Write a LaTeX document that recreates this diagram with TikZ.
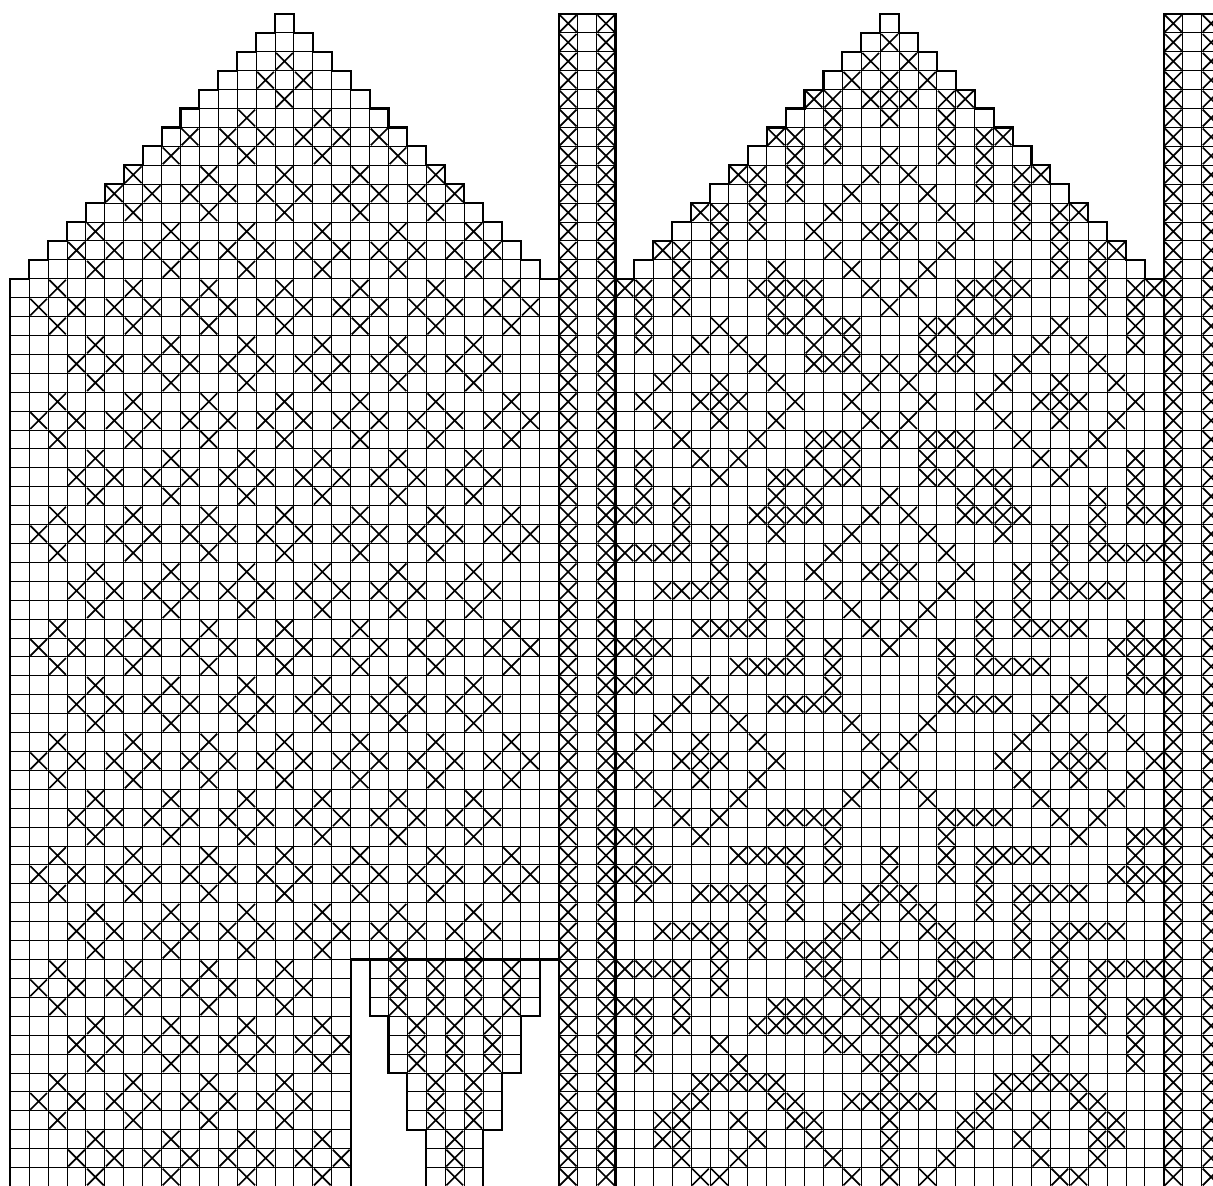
\documentclass[tikz,border=0pt]{standalone}
\usepackage{xcolor}

\newcommand{\xstitch}[2]{\draw[stitchline] (#1+.06,-#2-.06) -- (#1+.94,-#2-.94) (#1+.06,-#2-.94) -- (#1+.94,-#2-.06);}

\tikzset{
    gridline/.style={step=1, line width=.72pt, black},
    outline/.style={line width=1.6pt, black, line cap=rect},
    stitchline/.style={line width=1.25pt, black},
    mittentop/.pic={
        \foreach \r in {0,...,13} {
            \draw[gridline] (14-\r,-\r) grid (15+\r,-\r-1);
            \draw[outline] (14-\r,-\r-1) -- (14-\r,-\r) -- (15-\r,-\r);
            \draw[outline] (14+\r,-\r) -- (15+\r,-\r) -- (15+\r,-\r-1);
        }
        \draw[outline] (0,-14) -- (1,-14);
        \draw[outline] (28,-14) -- (29,-14);
    },
    ropestrip/.pic={
        \draw[gridline] (0,0) grid (3,-62);
        \draw[outline] (0,-62) -- (0,0) -- (3,0) -- (3,-62);
        \foreach \r in {0,...,61} {
            \xstitch{0}{\r}
            \xstitch{2}{\r}
        }
    }
}

\begin{document}
\begin{tikzpicture}[x=5mm, y=5mm]
    \useasboundingbox (-.545,.74) rectangle (63.6,-61.93);
    \clip (-.545,.74) rectangle (63.6,-61.93);

    \pic at (0,0) {mittentop};
    \pic at (32,0) {mittentop};
    \pic at (29,0) {ropestrip};
    \pic at (61,0) {ropestrip};

    % palm
    \draw[gridline] (0,-14) grid (29,-50);
    \draw[gridline] (0,-50) grid (18,-62);
    \draw[gridline] (19,-50) grid (28,-53);
    \draw[gridline] (20,-53) grid (27,-56);
    \draw[gridline] (21,-56) grid (26,-59);
    \draw[gridline] (22,-59) grid (25,-62);
    \draw[outline] (0,-14) -- (0,-62);
    \draw[outline] (18,-62) -- (18,-50) -- (29,-50);
    \draw[outline] (19,-50) -- (19,-53) -- (20,-53) -- (20,-56) -- (21,-56) -- (21,-59) -- (22,-59) -- (22,-62);
    \draw[outline] (28,-50) -- (28,-53) -- (27,-53) -- (27,-56) -- (26,-56) -- (26,-59) -- (25,-59) -- (25,-62);

    % back
    \draw[gridline] (32,-14) grid (61,-62);

    \foreach \r/\cols in {2/{14},3/{13,15},4/{14},5/{12,16},6/{9,11,13,15,17,19},7/{8,12,16,20},
        8/{6,10,14,18,22},9/{5,7,...,23},10/{6,10,14,18,22},11/{4,8,...,24},12/{3,5,...,25},13/{4,8,...,24}} {
        \foreach \c in \cols {\xstitch{\c}{\r}}
    }
    \foreach \r in {14,16,20,22,26,28,32,34,38,40,44,46}
        \foreach \c in {2,6,...,26} {\xstitch{\c}{\r}}
    \foreach \r in {15,21,27,33,39,45}
        \foreach \c in {1,3,...,27} {\xstitch{\c}{\r}}
    \foreach \r in {17,19,23,25,29,31,35,37,41,43,47,49}
        \foreach \c in {4,8,...,24} {\xstitch{\c}{\r}}
    \foreach \r in {18,24,30,36,42,48}
        \foreach \c in {3,5,...,25} {\xstitch{\c}{\r}}
    \foreach \r in {50,52,56,58}
        \foreach \c in {2,6,10,14} {\xstitch{\c}{\r}}
    \foreach \r in {51,57}
        \foreach \c in {1,3,...,15} {\xstitch{\c}{\r}}
    \foreach \r in {53,55,59,61}
        \foreach \c in {4,8,12,16} {\xstitch{\c}{\r}}
    \foreach \r in {54,60}
        \foreach \c in {3,5,...,17} {\xstitch{\c}{\r}}

    % thumb
    \foreach \r in {50,51,52}
        \foreach \c in {20,22,24,26} {\xstitch{\c}{\r}}
    \foreach \r in {53,54,55}
        \foreach \c in {21,23,25} {\xstitch{\c}{\r}}
    \foreach \r in {56,57,58}
        \foreach \c in {22,24} {\xstitch{\c}{\r}}
    \foreach \r in {59,60,61} {\xstitch{23}{\r}}

    % back pattern
    \begin{scope}[shift={(32,0)}]
    \foreach \r/\cols in {
        1/{14},
        2/{13,15},
        3/{12,14,16},
        4/{10,11,13,14,15,17,18},
        5/{11,14,17},
        6/{8,9,11,17,19,20},
        7/{9,11,14,17,19},
        8/{6,7,9,13,15,19,21,22},
        9/{7,9,12,16,19,21},
        10/{4,5,7,11,14,17,21,23,24},
        11/{5,7,10,13,14,15,18,21,23},
        12/{2,3,5,11,14,17,23,25,26},
        13/{3,5,8,12,16,20,23,25},
        14/{0,1,3,7,8,9,10,13,15,18,19,20,21,25,27,28},
        15/{1,3,8,10,14,18,20,25,27},
        16/{1,5,8,9,11,12,16,17,19,20,23,27},
        17/{1,4,6,10,12,16,18,22,24,27},
        18/{3,7,10,11,12,14,16,17,18,21,25},
        19/{2,5,8,13,15,20,23,26},
        20/{1,4,5,6,9,12,16,19,22,23,24,27},
        21/{2,5,8,13,15,20,23,26},
        22/{3,7,10,11,12,14,16,17,18,21,25},
        23/{1,4,6,10,12,16,18,22,24,27},
        24/{1,5,8,9,11,12,16,17,19,20,23,27},
        25/{1,3,8,10,14,18,20,25,27},
        26/{0,1,3,7,8,9,10,13,15,18,19,20,21,25,27,28},
        27/{3,5,8,12,16,20,23,25},
        28/{0,1,2,3,5,11,14,17,23,25,26,27,28},
        29/{5,7,10,13,14,15,18,21,23},
        30/{2,3,4,5,7,11,14,17,21,23,24,25,26},
        31/{7,9,12,16,19,21},
        32/{1,4,5,6,7,9,13,15,19,21,22,23,24,27},
        33/{0,1,2,9,11,14,17,19,26,27,28},
        34/{1,6,7,8,9,11,17,19,20,21,22,27},
        35/{0,1,4,11,17,24,27,28},
        36/{3,5,8,9,10,11,17,18,19,20,23,25},
        37/{2,6,12,16,22,26},
        38/{1,4,7,13,15,21,24,27},
        39/{0,3,4,5,8,14,20,23,24,25,28},
        40/{1,4,7,13,15,21,24,27},
        41/{2,6,12,16,22,26},
        42/{3,5,8,9,10,11,17,18,19,20,23,25},
        43/{0,1,4,11,17,24,27,28},
        44/{1,6,7,8,9,11,14,17,19,20,21,22,27},
        45/{0,1,2,9,11,14,17,19,26,27,28},
        46/{1,4,5,6,7,9,13,14,15,19,21,22,23,24,27},
        47/{7,9,12,13,15,16,19,21},
        48/{2,3,4,5,7,11,12,16,17,21,23,24,25,26},
        49/{5,7,9,10,11,14,17,18,19,21,23},
        50/{0,1,2,3,5,10,11,17,18,23,25,26,27,28},
        51/{3,5,11,12,16,17,23,25},
        52/{0,1,3,8,9,10,12,13,15,16,18,19,20,25,27,28},
        53/{1,3,7,8,9,10,11,13,14,15,17,18,19,20,21,25,27},
        54/{1,5,11,12,14,16,17,23,27},
        55/{1,6,13,14,15,22,27},
        56/{4,5,6,7,8,14,20,21,22,23,24},
        57/{3,4,8,9,12,13,14,15,16,19,20,24,25},
        58/{2,3,6,9,10,14,18,19,22,25,26},
        59/{2,3,7,10,14,18,21,25,26},
        60/{3,6,11,14,17,22,25},
        61/{4,5,12,14,16,23,24}} {
        \foreach \c in \cols {\xstitch{\c}{\r}}
    }
    \end{scope}
\end{tikzpicture}
\end{document}
